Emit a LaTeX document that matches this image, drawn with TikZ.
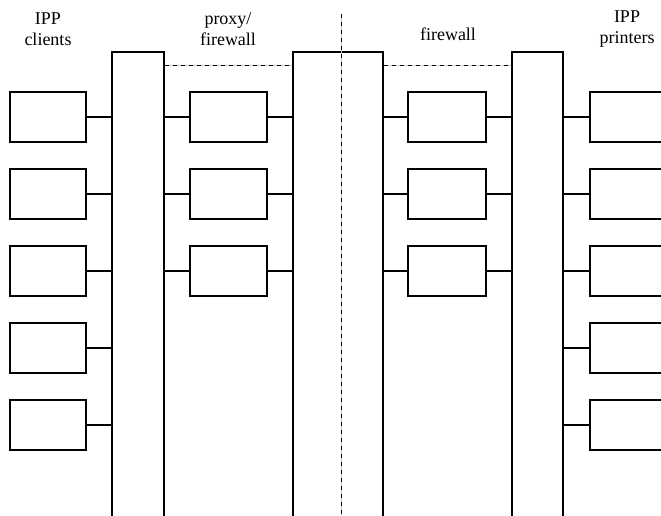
\documentclass[tikz,border=0pt]{standalone}
\usepackage{fontspec}
\setmainfont{Liberation Serif}
\usetikzlibrary{positioning, calc}

\begin{document}
\begin{tikzpicture}[x=1pt, y=-1pt, line width=1.2pt,
    every node/.style={font=\fontsize{18}{21}\selectfont},
    host/.style={draw, minimum width=76pt, minimum height=50pt, inner sep=0pt},
    lan/.style={draw, inner sep=0pt},
    label/.style={align=center, inner sep=0pt},
    sep/.style={line width=0.6pt, gray!45},
    sepdash/.style={line width=0.6pt, dash pattern=on 4pt off 4pt}]

    \clip (0,0) rectangle (661,515);

    % LAN segments
    \node[lan, minimum width=52pt, minimum height=468pt] (lanA) at (138,286) {};
    \node[lan, minimum width=90pt, minimum height=468pt] (lanB) at (338,286) {};
    \node[lan, minimum width=51pt, minimum height=468pt] (lanC) at (537.5,286) {};

    % clients and printers
    \foreach \i/\y in {1/117, 2/194, 3/271, 4/348, 5/425} {
        \node[host] (c\i) at (48,\y) {};
        \node[host] (p\i) at (628,\y) {};
        \draw (c\i.east) -- (c\i.east -| lanA.west);
        \draw (p\i.west) -- (p\i.west -| lanC.east);
    }

    % proxies and firewalls
    \foreach \i/\y in {1/117, 2/194, 3/271} {
        \node[host, minimum width=77pt] (x\i) at (228.5,\y) {};
        \node[host, minimum width=78pt] (f\i) at (447,\y) {};
        \draw (x\i.west) -- (x\i.west -| lanA.east);
        \draw (x\i.east) -- (x\i.east -| lanB.west);
        \draw (f\i.west) -- (f\i.west -| lanB.east);
        \draw (f\i.east) -- (f\i.east -| lanC.west);
    }

    % boundaries
    \coordinate (t1) at (341,14);
    \coordinate (t2) at (341,515);
    \coordinate (hA) at ($(lanA.north east)+(0,14)$);
    \coordinate (hB) at ($(lanB.north east)+(0,14)$);
    \foreach \s in {sep, sepdash} {
        \draw[\s] (t1) -- (t2);
        \draw[\s] (hA) -- (hA -| lanB.west);
        \draw[\s] (hB) -- (hB -| lanC.west);
    }

    % labels
    \node[label] (lclients) at (48,29) {IPP\\clients};
    \node[label] (lproxy) at (228,29) {proxy/\\firewall};
    \node[label] (lfw) at (448,34) {firewall};
    \node[label] (lprinters) at (627,29) {IPP\\printers};
\end{tikzpicture}
\end{document}
